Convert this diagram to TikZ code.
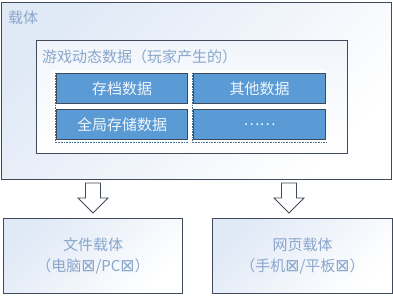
\documentclass[tikz,border=0pt]{standalone}
\usepackage{fontspec}
\setmainfont{Noto Sans CJK SC}
\newfontfamily\fuhao{DejaVu Sans}
\usetikzlibrary{positioning}
\definecolor{bianxian}{HTML}{3F4B5B}
\definecolor{wenzi}{HTML}{8AA6CC}
\definecolor{gelan}{HTML}{5B9BD5}
\definecolor{qianlan}{HTML}{E0E9F6}
\newcommand{\kuai}{{\fuhao\fontsize{17}{21}\selectfont ⊠}}
\tikzset{
  kuang/.style={draw=bianxian,line width=1pt,inner sep=0pt,anchor=north west,
                top color=qianlan,bottom color=white,shading angle=45},
  biaoti/.style={text=wenzi,anchor=west,inner sep=0pt,font=\fontsize{15}{17}\selectfont},
  ge/.style={draw=bianxian,fill=gelan,line width=1pt,minimum width=131pt,minimum height=30pt,
             inner sep=0pt,text=white!90!gelan,font=\fontsize{15}{17}\selectfont},
  zaitikuang/.style={kuang,minimum width=179pt,minimum height=75pt,align=center,text=wenzi,
                     font=\fontsize{15}{21}\selectfont},
  jiantou/.style={draw=bianxian,fill=white,line width=0.8pt,line join=miter},
  xudian/.style={gelan!70!black,densely dotted,line width=0.6pt},
}
\begin{document}
\begin{tikzpicture}[x=1pt,y=-1pt]
  \useasboundingbox (0,0) rectangle (393,296);
  % carrier
  \node[kuang,minimum width=390pt,minimum height=177pt] (zaiti) at (1,2) {};
  \node[biaoti] (zaitibt) at (8,18) {载体};
  % dynamic data
  \node[kuang,minimum width=311pt,minimum height=113pt,top color=qianlan!45] (dongtai) at (36,40) {};
  \node[biaoti] (dongtaibt) at (42,57) {游戏动态数据（玩家产生的）};
  \node[fill=white,inner sep=0pt,anchor=north west,minimum width=275pt,minimum height=76pt] (biao) at (51,70) {};
  \node[ge,anchor=north west] (cundang) at (56,73) {存档数据};
  \node[ge,right=5pt of cundang,minimum width=132pt] (qita) {其他数据};
  \node[ge,below=5pt of cundang] (quanju) {全局存储数据};
  \node[ge,right=5pt of quanju,minimum width=132pt] (gengduo) {……};
  \draw[xudian] ([yshift=-2.5pt]quanju.south west) -- ([yshift=-2.5pt]quanju.south east);
  \draw[xudian] ([yshift=-2.5pt]gengduo.south west) -- ([yshift=-2.5pt]gengduo.south east);
  \draw[xudian] ([xshift=-0.6pt]cundang.north west) -- ([xshift=-0.6pt,yshift=-2.5pt]quanju.south west);
  \draw[xudian] ([xshift=-0.6pt]qita.north west) -- ([xshift=-0.6pt,yshift=-2.5pt]gengduo.south west);
  % targets
  \node[zaitikuang] (wenjian) at (3,218) {文件载体\\（电脑\kuai/PC\kuai）};
  \node[zaitikuang,minimum width=180pt] (wangye) at (212,218) {网页载体\\（手机\kuai/平板\kuai）};
  % block arrows
  \foreach \x/\n in {93/jt1,289/jt2} {
    \coordinate (\n) at (\x,183);
    \draw[jiantou] (\n) ++(-7.5,0) -- ++(15,0) -- ++(0,15) -- ++(7.5,0) -- ++(-15,15)
      -- ++(-15,-15) -- ++(7.5,0) -- cycle;
  }
\end{tikzpicture}
\end{document}
